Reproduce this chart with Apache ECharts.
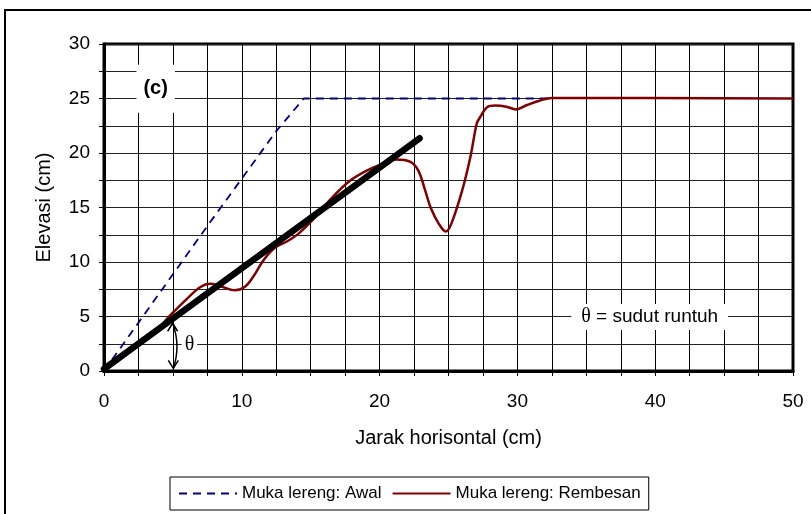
<!DOCTYPE html>
<html>
<head>
<meta charset="utf-8">
<script src="https://cdn.jsdelivr.net/npm/echarts@6/dist/echarts.min.js"></script>
<style>
  html, body { margin: 0; padding: 0; background: #fff; }
  #main { width: 811px; height: 514px; }
</style>
</head>
<body>
<div id="main"></div>
<script>
// Slope profiles, [jarak horisontal, elevasi] in cm
const awalPoints = [[0, 0], [7.5, 13.3], [12.5, 22], [14.5, 25], [32.5, 25]]
const rembesanPoints = [
  [0, 0], [1, 0.9], [2.5, 2.4], [4, 4], [4.8, 5.1], [6, 6.6], [7, 7.7], [7.7, 8.0],
  [8.4, 7.8], [9.5, 7.4], [10.2, 7.7], [10.8, 8.6], [11.6, 10.2], [12.4, 11.3],
  [13.3, 11.9], [14.2, 12.7], [15.4, 14.2], [16.4, 15.7], [17.8, 17.4], [19.1, 18.4],
  [20.3, 19.05], [21.2, 19.4], [22.2, 19.2], [22.8, 18.4], [23.3, 16.6], [23.7, 15.0],
  [24.3, 13.5], [24.8, 12.8], [25.2, 13.5], [26.0, 16.6], [26.6, 19.7], [27.05, 22.7],
  [27.3, 23.3], [27.8, 24.2], [28.4, 24.35], [29.2, 24.25], [29.9, 24.0], [30.7, 24.4],
  [31.6, 24.8], [32.5, 25.05], [50, 25]
]
const runtuhLine = [[0, 0.2], [22.9, 21.35]]
const seriesNames = ['Muka lereng: Awal', 'Muka lereng: Rembesan']

const font = 'Arial, "Liberation Sans", sans-serif'
const serif = '"Times New Roman", "Liberation Serif", serif'

const chart = echarts.init(document.getElementById('main'), null, { renderer: 'canvas' })

const option = {
  animation: false,
  textStyle: { fontFamily: font, color: '#000' },
  grid: {
    left: 104, top: 44, right: 18, bottom: 143,
    show: true, borderColor: '#000', borderWidth: 3
  },
  legend: {
    data: seriesNames,
    left: 170, top: 477,
    padding: [8, 8, 8, 8],
    itemWidth: 58, itemHeight: 12, itemGap: 10,
    borderColor: '#000', borderWidth: 1,
    itemStyle: { opacity: 0 },
    textStyle: { fontSize: 17, fontFamily: font, color: '#000' }
  },
  xAxis: {
    type: 'value', min: 0, max: 50, interval: 2.5,
    name: 'Jarak horisontal (cm)', nameLocation: 'middle', nameGap: 57,
    nameTextStyle: { fontSize: 20, fontFamily: font, color: '#000' },
    axisLine: { lineStyle: { color: '#000', width: 3 } },
    axisTick: { show: true, length: 5, lineStyle: { color: '#000', width: 1 } },
    axisLabel: {
      fontSize: 19, color: '#000', margin: 21,
      formatter: v => (v % 10 === 0 ? String(v) : '')
    },
    splitLine: { show: true, lineStyle: { color: '#000', width: 1 } }
  },
  yAxis: {
    type: 'value', min: 0, max: 30, interval: 2.5,
    name: 'Elevasi (cm)', nameLocation: 'middle', nameGap: 50,
    nameTextStyle: { fontSize: 20, fontFamily: font, color: '#000' },
    axisLine: { show: true, lineStyle: { color: '#000', width: 3 } },
    axisTick: { show: true, length: 5, lineStyle: { color: '#000', width: 1 } },
    axisLabel: {
      fontSize: 19, color: '#000', margin: 14,
      formatter: v => (v % 5 === 0 ? String(v) : '')
    },
    splitLine: { show: true, lineStyle: { color: '#222', width: 1 } }
  },
  series: [
    {
      name: seriesNames[0], type: 'line', data: awalPoints,
      symbol: 'none', z: 3,
      lineStyle: { color: '#000080', width: 1.8, type: [8, 6] },
      itemStyle: { color: '#000080' }
    },
    {
      name: seriesNames[1], type: 'line', data: rembesanPoints,
      symbol: 'none', smooth: 0.35, z: 4,
      lineStyle: { color: '#800000', width: 2.5 },
      itemStyle: { color: '#800000' }
    },
    {
      name: 'runtuh', type: 'line', data: runtuhLine,
      symbol: 'none', z: 5,
      lineStyle: { color: '#000', width: 6.5, cap: 'round' }
    }
  ]
}
chart.setOption(option)

// annotations placed in data coordinates
function px (x, y) { return chart.convertToPixel({ seriesIndex: 0 }, [x, y]) }

const arcTop = px(4.98, 4.38)
const arcBot = px(5.03, 0.25)
const arcMid = [(arcTop[0] + arcBot[0]) / 2 + 8, (arcTop[1] + arcBot[1]) / 2]
const thetaPos = px(6.2, 2.4)
const cPos = px(3.75, 25.9)
const notePos = px(39.6, 4.95)

chart.setOption({
  graphic: [
    {
      type: 'rect', silent: true, z: 0,
      shape: { x: 5, y: 10, width: 830, height: 540 },
      style: { fill: 'none', stroke: '#000', lineWidth: 2 }
    },
    {
      type: 'bezierCurve', z: 10,
      shape: { x1: arcTop[0], y1: arcTop[1], x2: arcBot[0], y2: arcBot[1], cpx1: arcMid[0], cpy1: arcMid[1] },
      style: { stroke: '#000', lineWidth: 1.5, fill: 'none' }
    },
    {
      type: 'polyline', z: 10,
      shape: { points: [[arcTop[0] - 5, arcTop[1] + 8], arcTop, [arcTop[0] + 5, arcTop[1] + 8]] },
      style: { stroke: '#000', lineWidth: 1.5, fill: 'none' }
    },
    {
      type: 'polyline', z: 10,
      shape: { points: [[arcBot[0] - 5, arcBot[1] - 8], arcBot, [arcBot[0] + 5, arcBot[1] - 8]] },
      style: { stroke: '#000', lineWidth: 1.5, fill: 'none' }
    },
    {
      type: 'text', z: 10, x: thetaPos[0], y: thetaPos[1],
      style: {
        text: 'θ', font: '20px ' + serif, fill: '#000',
        align: 'center', verticalAlign: 'middle',
        backgroundColor: '#fff', padding: [2, 3]
      }
    },
    {
      type: 'text', z: 10, x: cPos[0], y: cPos[1],
      style: {
        text: '(c)', font: 'bold 20px ' + font, fill: '#000',
        align: 'center', verticalAlign: 'middle',
        backgroundColor: '#fff', padding: [14, 7]
      }
    },
    {
      type: 'text', z: 10, x: notePos[0], y: notePos[1],
      style: {
        text: '{t|θ} = sudut runtuh',
        font: '19px ' + font, fill: '#000',
        align: 'center', verticalAlign: 'middle',
        backgroundColor: '#fff', padding: [3, 10],
        rich: { t: { fontFamily: serif, fontSize: 20 } }
      }
    }
  ]
})
</script>
</body>
</html>
